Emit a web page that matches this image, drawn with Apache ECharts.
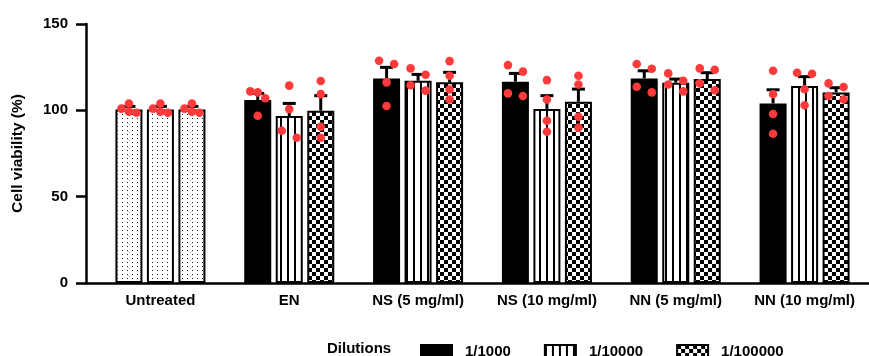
<!DOCTYPE html>
<html><head><meta charset="utf-8">
<script src="https://cdn.jsdelivr.net/npm/echarts@6.0.0/dist/echarts.min.js"></script>
<style>html,body{margin:0;padding:0;background:#fff}#c{width:869px;height:356px}</style>
</head><body><div id="c"></div>
<script>
// ---------- data ----------
const categories = ['Untreated', 'EN', 'NS (5 mg/ml)', 'NS (10 mg/ml)', 'NN (5 mg/ml)', 'NN (10 mg/ml)'];
const dilutions = ['1/1000', '1/10000', '1/100000'];
const yTicks = [0, 50, 100, 150];

const mean1000   = [100.5, 106.0, 118.5, 116.6, 118.5, 104.0];
const mean10000  = [100.5,  96.7, 117.1, 100.8, 116.0, 114.1];
const mean100000 = [100.5,  99.8, 116.2, 105.0, 118.1, 110.4];

const err1000   = [1.8, 3.8, 6.4, 4.8, 4.4, 7.9];
const err10000  = [1.8, 7.3, 3.7, 7.7, 2.1, 5.4];
const err100000 = [1.8, 8.7, 5.8, 7.3, 3.7, 2.7];

// replicate values per category
const reps1000 = [
  [104, 101, 99.2, 98.6], [111, 110.4, 107, 96.9], [128.7, 126.8, 116.2, 102.5],
  [126.2, 122.4, 109.8, 108.3], [126.8, 124.1, 113.7, 110.4], [122.9, 109.3, 97.9, 86.4]
];
const reps10000 = [
  [104, 101, 99.2, 98.6], [114.3, 100.7, 88.2, 84.1], [124.3, 120.6, 114.5, 111.4],
  [117.5, 106.3, 94, 87.6], [121.4, 117.1, 115, 111], [121.8, 121.2, 112.2, 102.9]
];
const reps100000 = [
  [104, 101, 99.2, 98.6], [117, 109.4, 90.5, 84.1], [128.5, 120, 112.1, 106.3],
  [120, 115, 96.3, 89.9], [124.3, 123.5, 115.6, 111.6], [115.6, 113.5, 108.3, 106.3]
];
// scatter column of each replicate (-1 left, 0 centre, 1 right), as seen in the picture
const slot1000 = [[0,-1,0,1],[-1,0,1,0],[-1,1,0,0],[-1,1,-1,1],[-1,1,-1,1],[0,0,0,0]];
const slot10000 = [[0,-1,0,1],[0,0,-1,1],[-1,1,-1,1],[0,0,0,0],[-1,1,-1,1],[-1,1,0,0]];
const slot100000 = [[0,-1,0,1],[0,0,0,0],[0,0,0,0],[0,0,0,0],[-1,1,-1,1],[-1,1,-1,1]];

// ---------- style ----------
const FONT = 'Liberation Sans, Arial, sans-serif';
const BAR_W = 27, GAP_PX = 4.5, STEP = BAR_W + GAP_PX, JIT = 7.5, DOT_R = 4.3, CAP = 6.5;

function makePattern(w, h, draw) {
  const c = document.createElement('canvas'); c.width = w; c.height = h;
  const g = c.getContext('2d'); g.fillStyle = '#fff'; g.fillRect(0, 0, w, h);
  g.fillStyle = '#000'; draw(g);
  return { image: c, repeat: 'repeat' };
}
const dotPat = makePattern(5, 4, g => { g.fillStyle = '#222'; g.fillRect(2, 2, 1, 1); });
const stripePat = makePattern(7, 4, g => g.fillRect(0, 0, 2, 4));
const checkPat = makePattern(8, 8, g => { g.fillRect(0, 0, 4, 4); g.fillRect(4, 4, 4, 4); });

const fills = ['#000', stripePat, checkPat];
const means = [mean1000, mean10000, mean100000];
const errs = [err1000, err10000, err100000];
const reps = [reps1000, reps10000, reps100000];
const slots = [slot1000, slot10000, slot100000];

const series = [];
dilutions.forEach((name, s) => {
  series.push({
    name, type: 'bar', xAxisIndex: 0, yAxisIndex: 0,
    barWidth: BAR_W, barGap: (GAP_PX / BAR_W * 100).toFixed(1) + '%',
    itemStyle: { color: fills[s], borderColor: '#000', borderWidth: 2 },
    z: 2,
    data: means[s].map((v, i) => i === 0 ? { value: v, itemStyle: { color: dotPat } } : v)
  });
});
dilutions.forEach((name, s) => {
  const shift = (s - 1) * STEP;
  series.push({
    name: name + ' err', type: 'custom', xAxisIndex: 0, yAxisIndex: 0, z: 3,
    encode: { x: 0, y: 1 },
    data: means[s].map((m, i) => [i, m, errs[s][i]]),
    renderItem: (params, api) => {
      const base = api.coord([api.value(0), api.value(1)]);
      const top = api.coord([api.value(0), api.value(1) + api.value(2)]);
      const x = base[0] + shift;
      const st = { stroke: '#000', lineWidth: 3, fill: null };
      return { type: 'group', children: [
        { type: 'line', shape: { x1: x, y1: base[1], x2: x, y2: top[1] }, style: st },
        { type: 'line', shape: { x1: x - CAP, y1: top[1], x2: x + CAP, y2: top[1] }, style: st }
      ]};
    }
  });
});
dilutions.forEach((name, s) => {
  const shift = (s - 1) * STEP;
  const pts = [];
  reps[s].forEach((arr, i) => arr.forEach((v, k) => pts.push([i, v, slots[s][i][k]])));
  series.push({
    name: name + ' pts', type: 'custom', xAxisIndex: 0, yAxisIndex: 0, z: 4,
    encode: { x: 0, y: 1 },
    data: pts,
    renderItem: (params, api) => {
      const p = api.coord([api.value(0), api.value(1)]);
      return { type: 'circle', shape: { cx: p[0] + shift + api.value(2) * JIT, cy: p[1], r: DOT_R },
               style: { fill: '#ff3a3a' } };
    }
  });
});

const chart = echarts.init(document.getElementById('c'), null, { renderer: 'canvas' });
chart.setOption({
  animation: false,
  backgroundColor: '#fff',
  title: { text: 'Dilutions', left: 327, top: 341, padding: 0,
           textStyle: { fontFamily: FONT, fontSize: 15, fontWeight: 'bold', color: '#000' } },
  legend: {
    data: dilutions, left: 420, top: 344, itemWidth: 31, itemHeight: 14, itemGap: 33, padding: 0,
    icon: 'rect',
    textStyle: { fontFamily: FONT, fontSize: 15, fontWeight: 'bold', color: '#000', padding: [0, 0, 0, 8] }
  },
  grid: [
    { left: 96, right: -4, top: 24, bottom: 73 },
    { left: 86, right: 0, top: 24, bottom: 73 }
  ],
  xAxis: [
    { type: 'category', gridIndex: 0, data: categories,
      axisLine: { show: false }, axisTick: { show: false },
      axisLabel: { fontFamily: FONT, fontSize: 15, fontWeight: 'bold', color: '#000', margin: 10, interval: 0 } },
    { type: 'value', gridIndex: 1, min: 0, max: 1,
      axisLine: { show: true, onZero: false, lineStyle: { color: '#000', width: 2.5 } },
      axisTick: { show: false }, axisLabel: { show: false }, splitLine: { show: false } }
  ],
  yAxis: [
    { type: 'value', gridIndex: 0, min: 0, max: 150, interval: 50, show: false },
    { type: 'value', gridIndex: 1, min: yTicks[0], max: yTicks[yTicks.length - 1], interval: yTicks[1] - yTicks[0],
      name: 'Cell viability (%)', nameLocation: 'middle', nameGap: 60,
      nameTextStyle: { fontFamily: FONT, fontSize: 15.5, fontWeight: 'bold', color: '#000' },
      axisLine: { show: true, lineStyle: { color: '#000', width: 2.5 } },
      axisTick: { show: true, length: 10, lineStyle: { color: '#000', width: 2.5 } },
      axisLabel: { fontFamily: FONT, fontSize: 15, fontWeight: 'bold', color: '#000', margin: 18 },
      splitLine: { show: false } }
  ],
  series
});
</script>
</body></html>
